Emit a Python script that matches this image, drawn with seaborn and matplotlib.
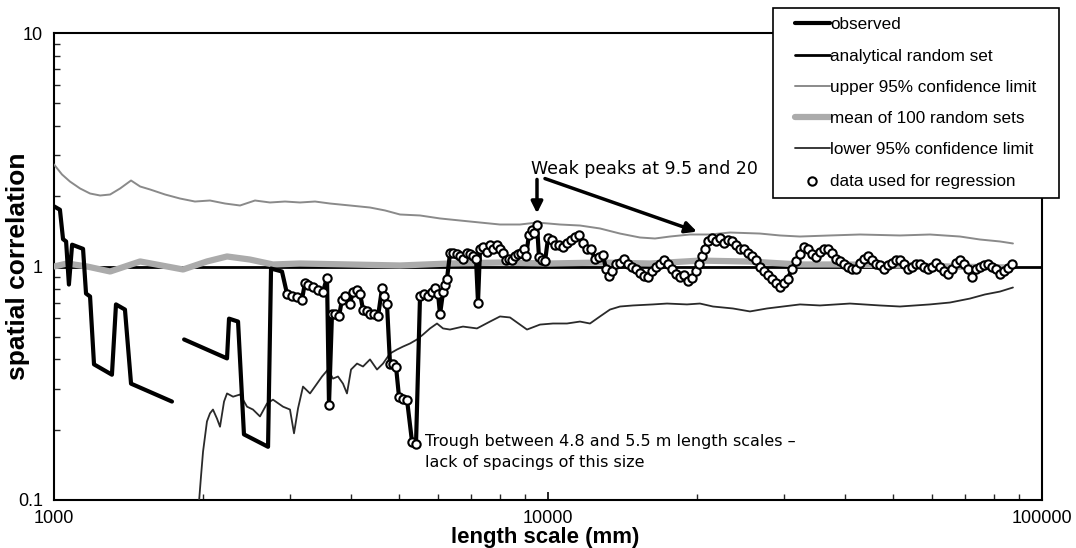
import matplotlib
matplotlib.use("Agg")
import matplotlib.pyplot as plt
from matplotlib.path import Path
from matplotlib.ticker import FixedLocator, FixedFormatter, LogLocator, NullFormatter
import seaborn as sns

# ---------------------------------------------------------------- data
# observed spatial correlation, first stretch (broken before 1.8 m)
obs_x_a = [1000, 1028, 1043, 1058, 1072, 1088, 1145, 1161, 1183, 1205,
           1310, 1335, 1392, 1432, 1733]
obs_y_a = [1.81, 1.75, 1.31, 1.28, 0.837, 1.24, 1.19, 0.766, 0.744, 0.381,
           0.344, 0.688, 0.654, 0.315, 0.264]

# observed, second stretch leading into the regression range
obs_x_b = [1834, 2240, 2261, 2358, 2424, 2712, 2750, 2894]
obs_y_b = [0.487, 0.404, 0.598, 0.581, 0.191, 0.169, 0.98, 0.952]

# observed values used for the regression
reg_x = [2962, 3032, 3104, 3177, 3222, 3267, 3344, 3423, 3504, 3570,
         3603, 3654, 3705, 3775, 3828, 3882, 3974, 4030, 4106, 4164,
         4222, 4302, 4362, 4445, 4528, 4613, 4656, 4722, 4788, 4856,
         4924, 4993, 5087, 5183, 5305, 5405, 5507, 5610, 5716, 5824,
         5906, 5989, 6045, 6130, 6188, 6246, 6333, 6422, 6543, 6635,
         6728, 6855, 6951, 7049, 7149, 7216, 7284, 7386, 7525, 7631,
         7739, 7884, 7995, 8108, 8222, 8338, 8455, 8575, 8695, 8818,
         8941, 9025, 9152, 9281, 9368, 9500, 9589, 9724, 9861, 10000,
         10188, 10331, 10525, 10723, 10926, 11131, 11341, 11554, 11771, 11993,
         12218, 12448, 12683, 12921, 13102, 13287, 13474, 13727, 13986, 14249,
         14517, 14790, 15068, 15352, 15641, 15936, 16236, 16542, 16853, 17170,
         17493, 17822, 18159, 18499, 18847, 19201, 19563, 19932, 20212, 20496,
         20785, 21077, 21474, 21878, 22290, 22709, 23137, 23572, 24016, 24468,
         24928, 25398, 25875, 26361, 26858, 27363, 27877, 28402, 28938, 29482,
         30037, 30602, 31179, 31766, 32362, 32971, 33591, 34223, 34867, 35523,
         36192, 36874, 37567, 38274, 38995, 39728, 40476, 41238, 42014, 42804,
         43610, 44430, 45266, 46118, 46987, 47871, 48772, 49692, 50628, 51577,
         52548, 53536, 54544, 55570, 56616, 57682, 58769, 59874, 61000, 62149,
         63318, 64510, 65724, 66960, 68220, 69504, 70810, 72143, 73503, 74885,
         76294, 77729, 79192, 80685, 82200, 83748, 85323, 86930]
reg_y = [0.766, 0.751, 0.737, 0.722, 0.854, 0.837, 0.813, 0.797, 0.781, 0.897,
         0.256, 0.629, 0.623, 0.611, 0.722, 0.744, 0.694, 0.781, 0.797, 0.766,
         0.654, 0.642, 0.629, 0.623, 0.611, 0.805, 0.744, 0.688, 0.384, 0.381,
         0.373, 0.277, 0.272, 0.269, 0.178, 0.173, 0.744, 0.759, 0.744, 0.781,
         0.805, 0.766, 0.623, 0.774, 0.837, 0.888, 1.137, 1.137, 1.126, 1.104,
         1.082, 1.137, 1.126, 1.104, 1.082, 0.701, 1.183, 1.218, 1.159, 1.242,
         1.183, 1.242, 1.194, 1.137, 1.071, 1.082, 1.061, 1.104, 1.126, 1.137,
         1.183, 1.104, 1.371, 1.427, 1.398, 1.513, 1.093, 1.071, 1.051, 1.318,
         1.305, 1.242, 1.242, 1.218, 1.255, 1.305, 1.344, 1.371, 1.267, 1.194,
         1.183, 1.082, 1.093, 1.115, 0.980, 0.915, 0.952, 1.020, 1.040, 1.082,
         1.030, 1.000, 0.980, 0.942, 0.915, 0.906, 0.952, 1.000, 1.020, 1.061,
         1.020, 0.980, 0.933, 0.906, 0.924, 0.863, 0.897, 0.952, 1.020, 1.104,
         1.194, 1.292, 1.331, 1.292, 1.318, 1.267, 1.305, 1.280, 1.242, 1.194,
         1.183, 1.148, 1.104, 1.061, 1.000, 0.952, 0.924, 0.888, 0.846, 0.813,
         0.846, 0.888, 0.980, 1.051, 1.126, 1.218, 1.194, 1.126, 1.093, 1.159,
         1.194, 1.183, 1.148, 1.082, 1.051, 1.030, 1.000, 0.980, 0.980, 1.040,
         1.082, 1.104, 1.071, 1.030, 1.010, 0.980, 1.010, 1.040, 1.061, 1.061,
         1.020, 0.980, 1.000, 1.030, 1.030, 1.000, 0.971, 1.000, 1.040, 1.000,
         0.961, 0.933, 0.980, 1.040, 1.071, 1.020, 0.980, 0.906, 0.971, 1.000,
         1.010, 1.020, 1.000, 0.971, 0.933, 0.961, 0.990, 1.020]

# analytical expectation for a random set
analytical_x = [1000, 100000]
analytical_y = [1.0, 1.0]

# mean of 100 simulated random sets
mean_x = [1000, 1063, 1167, 1299, 1494, 1694, 1825, 2040, 2240, 2493,
          2775, 3148, 3974, 5017, 6333, 7995, 10093, 12741, 16086, 20306,
          25635, 32362, 40856, 51577, 65114, 86930]
mean_y = [1.00, 1.03, 1.00, 0.952, 1.051, 1.00, 0.971, 1.051, 1.104, 1.071,
          1.02, 1.03, 1.02, 1.01, 1.03, 1.04, 1.03, 1.04, 1.03, 1.06,
          1.05, 1.02, 1.02, 1.01, 1.00, 0.99]

# upper 95% confidence limit of the random sets
upper_x = [1000, 1038, 1077, 1129, 1183, 1240, 1299, 1361, 1432, 1494,
           1565, 1678, 1799, 1929, 2069, 2219, 2380, 2552, 2737, 2935,
           3148, 3376, 3620, 3974, 4362, 4678, 5017, 5507, 6045, 6635,
           7284, 7995, 8776, 9500, 10575, 11608, 12741, 13986, 15352, 16465,
           17657, 19381, 21275, 23354, 26858, 29482, 32362, 37219, 42804, 51577,
           59319, 68220, 74885, 82200, 87335]
upper_y = [2.735, 2.478, 2.312, 2.159, 2.054, 2.014, 2.034, 2.159, 2.335, 2.201,
           2.137, 2.034, 1.955, 1.898, 1.917, 1.861, 1.825, 1.917, 1.880, 1.898,
           1.880, 1.898, 1.861, 1.825, 1.789, 1.738, 1.670, 1.654, 1.606, 1.574,
           1.543, 1.513, 1.513, 1.543, 1.513, 1.498, 1.455, 1.384, 1.331, 1.318,
           1.344, 1.371, 1.371, 1.398, 1.384, 1.358, 1.344, 1.358, 1.371, 1.358,
           1.371, 1.344, 1.305, 1.280, 1.255]

# lower 95% confidence limit of the random sets
lower_x = [1966, 1984, 2003, 2040, 2069, 2098, 2138, 2168, 2209, 2240,
           2304, 2380, 2459, 2528, 2612, 2699, 2775, 2908, 3004, 3061,
           3119, 3192, 3298, 3407, 3488, 3586, 3671, 3757, 3846, 3918,
           3993, 4106, 4222, 4362, 4507, 4635, 4788, 4947, 5087, 5256,
           5430, 5584, 5770, 5961, 6130, 6333, 6728, 7182, 7631, 7995,
           8377, 8776, 9067, 9634, 10235, 10926, 11608, 12162, 12741, 13349,
           13986, 14860, 16312, 17413, 19112, 20306, 21574, 23682, 25635, 27749,
           29897, 32362, 35523, 40856, 46987, 51577, 59319, 65114, 71476, 76650,
           82200, 87335]
lower_y = [0.0985, 0.126, 0.161, 0.217, 0.235, 0.244, 0.223, 0.206, 0.264, 0.286,
           0.277, 0.283, 0.251, 0.244, 0.228, 0.259, 0.269, 0.251, 0.244, 0.193,
           0.247, 0.306, 0.286, 0.315, 0.338, 0.362, 0.331, 0.338, 0.315, 0.286,
           0.362, 0.384, 0.373, 0.400, 0.362, 0.384, 0.424, 0.441, 0.454, 0.468,
           0.487, 0.511, 0.543, 0.570, 0.543, 0.537, 0.553, 0.543, 0.581, 0.611,
           0.605, 0.564, 0.537, 0.564, 0.570, 0.570, 0.581, 0.570, 0.611, 0.654,
           0.674, 0.681, 0.688, 0.694, 0.688, 0.694, 0.674, 0.661, 0.642, 0.661,
           0.674, 0.688, 0.681, 0.694, 0.681, 0.674, 0.688, 0.701, 0.729, 0.759,
           0.781, 0.813]

tick_x = [1000, 10000, 100000]
tick_x_labels = ["1000", "10000", "100000"]
tick_y = [0.1, 1, 10]
tick_y_labels = ["0.1", "1", "10"]

# ---------------------------------------------------------------- style
sns.set_style("ticks")
plt.rcParams["font.family"] = ["Liberation Sans", "DejaVu Sans"]
plt.rcParams["text.color"] = "black"
plt.rcParams["axes.labelcolor"] = "black"
plt.rcParams["xtick.direction"] = "in"
plt.rcParams["ytick.direction"] = "in"

W, H = 1076, 548
fig = plt.figure(figsize=(W / 100, H / 100), dpi=100)
ax = fig.add_axes([54 / W, 1 - 500 / H, (1042 - 54) / W, (500 - 33) / H])
ax.set_xscale("log")
ax.set_yscale("log")

line_kw = dict(ax=ax, estimator=None, sort=False, legend=False)

sns.lineplot(x=analytical_x, y=analytical_y, color="black", lw=2.0,
             label="analytical random set", zorder=2, **line_kw)
sns.lineplot(x=mean_x, y=mean_y, color="#ababab", lw=4.5,
             label="mean of 100 random sets", zorder=3, **line_kw)
sns.lineplot(x=upper_x, y=upper_y, color="#8a8a8a", lw=1.4,
             label="upper 95% confidence limit", zorder=3, **line_kw)
sns.lineplot(x=lower_x, y=lower_y, color="#2a2a2a", lw=1.3,
             label="lower 95% confidence limit", zorder=3, **line_kw)
sns.lineplot(x=obs_x_a, y=obs_y_a, color="black", lw=3.0,
             label="observed", zorder=4, **line_kw)
sns.lineplot(x=obs_x_b + reg_x, y=obs_y_b + reg_y, color="black", lw=3.0,
             zorder=4, **line_kw)
sns.scatterplot(x=reg_x, y=reg_y, s=36, facecolor="white", edgecolor="black",
                linewidth=1.5, label="data used for regression", zorder=5,
                ax=ax, legend=False)

ax.set_xlim(1000, 100000)
ax.set_ylim(0.1, 10)

ax.xaxis.set_major_locator(FixedLocator(tick_x))
ax.xaxis.set_major_formatter(FixedFormatter(tick_x_labels))
ax.xaxis.set_minor_locator(LogLocator(base=10, subs=range(2, 10)))
ax.xaxis.set_minor_formatter(NullFormatter())
ax.yaxis.set_major_locator(FixedLocator(tick_y))
ax.yaxis.set_major_formatter(FixedFormatter(tick_y_labels))
ax.yaxis.set_minor_locator(LogLocator(base=10, subs=range(2, 10)))
ax.yaxis.set_minor_formatter(NullFormatter())
ax.tick_params(axis="both", which="major", length=6, width=1.2,
               labelsize=13, colors="black")
ax.tick_params(axis="x", which="major", pad=7)
ax.tick_params(axis="y", which="major", pad=8)
ax.tick_params(axis="both", which="minor", length=4, width=1.0)
for side in ["left", "bottom", "top", "right"]:
    ax.spines[side].set_visible(True)
    ax.spines[side].set_linewidth(1.5)
    ax.spines[side].set_color("black")

# axis titles
fig.text(545 / W, 1 - 538 / H, "length scale (mm)", fontsize=16,
         fontweight="bold", ha="center", va="center", color="black")
fig.text(18 / W, 1 - 266 / H, "spatial correlation", fontsize=19,
         fontweight="bold", ha="center", va="center", rotation=90,
         color="black")

# annotations
note_font = ["DejaVu Sans"]
ax.text(9240, 2.62, "Weak peaks at 9.5 and 20", fontsize=12.5,
        family=note_font, va="center", ha="left", color="black")
ax.annotate("", xy=(9500, 1.69), xytext=(9500, 2.36),
            arrowprops=dict(arrowstyle="-|>", lw=2.5, color="black",
                            mutation_scale=17, shrinkA=0, shrinkB=0))
ax.annotate("", xy=(20020, 1.41), xytext=(9860, 2.38),
            arrowprops=dict(arrowstyle="-|>", lw=2.5, color="black",
                            mutation_scale=17, shrinkA=0, shrinkB=0))
ax.text(5640, 0.161,
        "Trough between 4.8 and 5.5 m length scales \u2013\nlack of spacings of this size",
        fontsize=11.5, family=note_font, va="center", ha="left",
        linespacing=1.5, color="black")


# legend frame that reaches further sideways than vertically
def wide_box(x0, y0, width, height, mutation_size, pad_x=13, pad_y=0):
    xa, xb = x0 - pad_x, x0 + width + pad_x
    ya, yb = y0 - pad_y, y0 + height + pad_y
    return Path([(xa, ya), (xb, ya), (xb, yb), (xa, yb), (xa, ya)], closed=True)


handles, labels = ax.get_legend_handles_labels()
order = ["observed", "analytical random set", "upper 95% confidence limit",
         "mean of 100 random sets", "lower 95% confidence limit",
         "data used for regression"]
lookup = dict(zip(labels, handles))
leg = fig.legend([lookup[k] for k in order], order, loc="upper left",
                 bbox_to_anchor=(786 / W, 1 - 8 / H), frameon=True,
                 fancybox=False, edgecolor="black", framealpha=1,
                 fontsize=12.3, handlelength=2.0, handletextpad=0.05,
                 labelspacing=0.95, borderpad=0.55, borderaxespad=0)
leg.get_frame().set_linewidth(1.2)
leg.get_frame().set_boxstyle(wide_box)
for t in leg.get_texts():
    t.set_color("black")

fig.savefig("out.png", dpi=100)
